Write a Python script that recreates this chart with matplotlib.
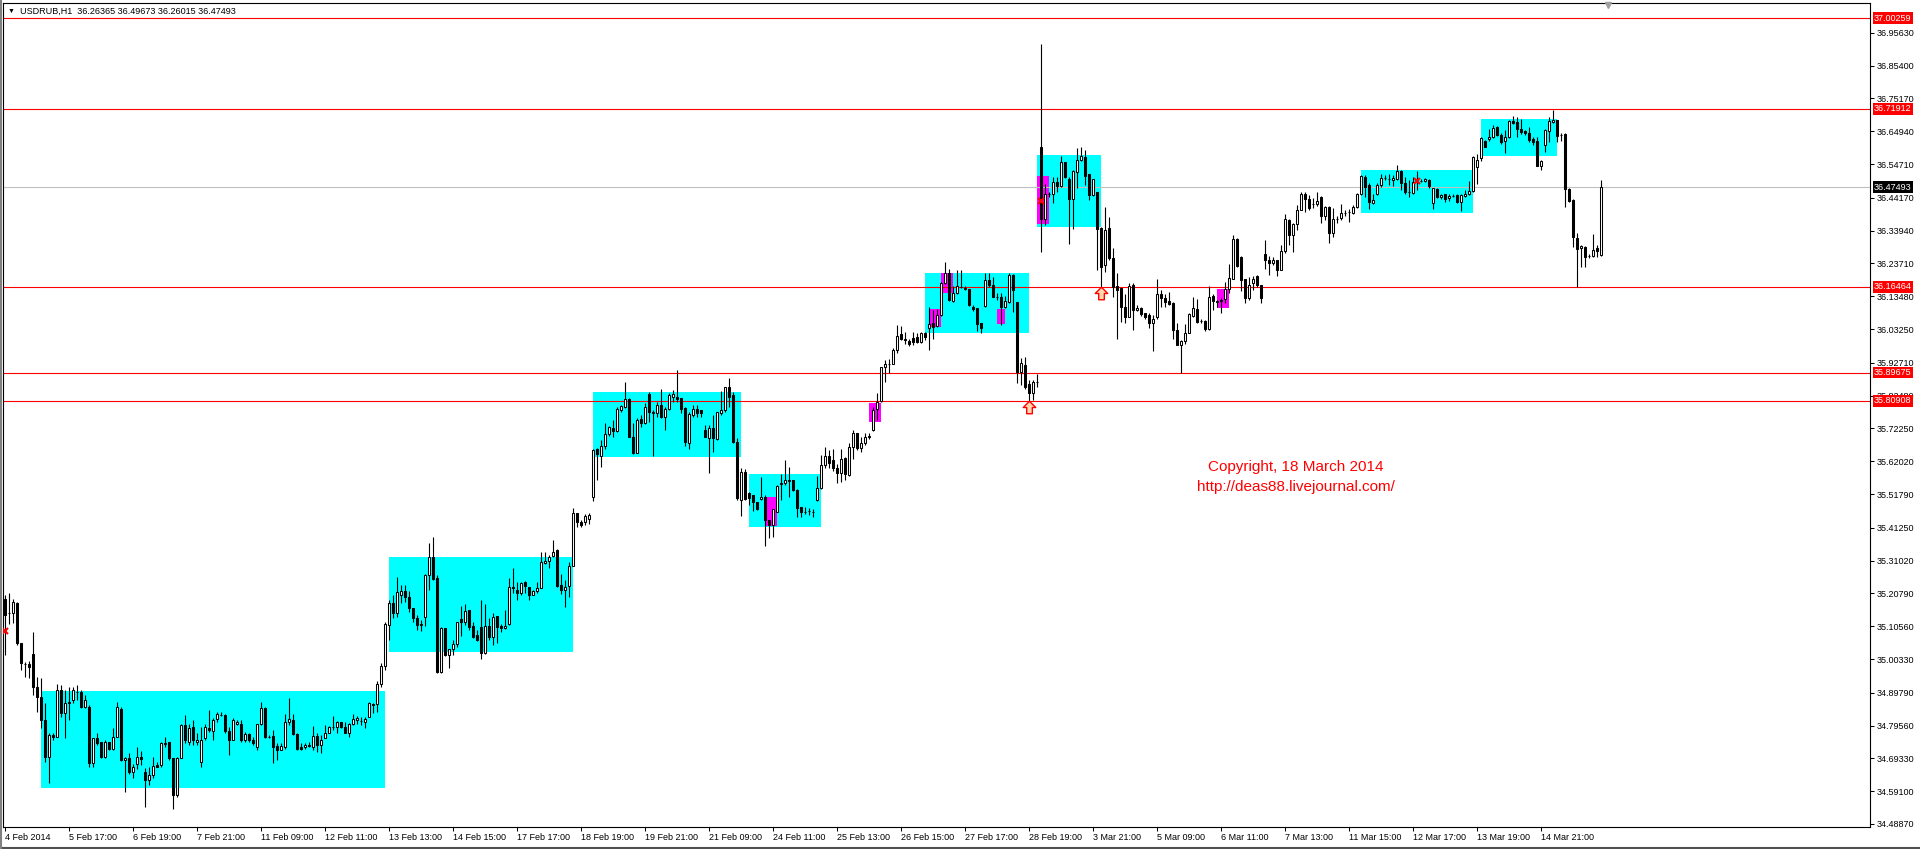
import matplotlib.pyplot as plt
import matplotlib.transforms as mtransforms
from matplotlib.path import Path
from matplotlib.lines import Line2D
import numpy as np

plt.rcParams['font.family'] = ['Liberation Sans', 'DejaVu Sans']

# USDRUB H1 candles
opens = [
    35.192, 35.146, 35.146, 35.179, 35.052, 34.988, 34.988, 35.018, 34.917, 34.886,
    34.813, 34.698, 34.766, 34.761, 34.908, 34.834, 34.867, 34.875, 34.901, 34.901,
    34.854, 34.854, 34.678, 34.756, 34.745, 34.698, 34.745, 34.724, 34.761, 34.847,
    34.688, 34.695, 34.650, 34.676, 34.698, 34.651, 34.626, 34.641, 34.672, 34.672,
    34.737, 34.745, 34.693, 34.579, 34.693, 34.797, 34.745, 34.790, 34.745, 34.683,
    34.756, 34.787, 34.780, 34.815, 34.830, 34.830, 34.780, 34.752, 34.800, 34.802,
    34.750, 34.769, 34.752, 34.730, 34.800, 34.852, 34.761, 34.763, 34.732, 34.721,
    34.730, 34.808, 34.813, 34.769, 34.730, 34.728, 34.732, 34.730, 34.763, 34.735,
    34.756, 34.773, 34.790, 34.790, 34.806, 34.792, 34.771, 34.800, 34.813, 34.811,
    34.808, 34.823, 34.863, 34.863, 34.924, 34.981, 35.109, 35.177, 35.146, 35.203,
    35.215, 35.196, 35.161, 35.130, 35.109, 35.135, 35.265, 35.322, 35.255, 34.964,
    35.099, 35.016, 35.033, 35.050, 35.127, 35.120, 35.156, 35.106, 35.078, 35.104,
    35.021, 35.107, 35.073, 35.137, 35.106, 35.099, 35.111, 35.229, 35.220, 35.208,
    35.242, 35.229, 35.203, 35.215, 35.226, 35.302, 35.308, 35.324, 35.343, 35.234,
    35.218, 35.231, 35.294, 35.458, 35.430, 35.432, 35.439, 35.510, 35.657, 35.638,
    35.668, 35.705, 35.723, 35.716, 35.780, 35.790, 35.813, 35.695, 35.647, 35.751,
    35.738, 35.830, 35.772, 35.772, 35.796, 35.757, 35.782, 35.820, 35.820, 35.816,
    35.787, 35.676, 35.764, 35.782, 35.780, 35.718, 35.692, 35.725, 35.688, 35.770,
    35.780, 35.851, 35.827, 35.681, 35.499, 35.586, 35.520, 35.515, 35.492, 35.501,
    35.508, 35.437, 35.421, 35.463, 35.548, 35.551, 35.559, 35.561, 35.530, 35.476,
    35.463, 35.466, 35.463, 35.499, 35.538, 35.610, 35.637, 35.624, 35.598, 35.582,
    35.629, 35.577, 35.665, 35.707, 35.663, 35.678, 35.695, 35.717, 35.782, 35.809,
    35.913, 35.925, 35.925, 35.967, 36.017, 36.003, 35.996, 36.005, 36.007, 35.993,
    36.021, 36.035, 36.052, 36.042, 36.076, 36.175, 36.206, 36.121, 36.144, 36.165,
    36.159, 36.156, 36.100, 36.097, 36.050, 36.104, 36.185, 36.170, 36.133, 36.133,
    36.100, 36.118, 36.201, 36.118, 35.899, 35.920, 35.860, 35.834, 35.868, 36.601,
    36.377, 36.453, 36.453, 36.492, 36.479, 36.552, 36.502, 36.437, 36.521, 36.559,
    36.570, 36.516, 36.450, 36.459, 36.349, 36.232, 36.349, 36.255, 36.166, 36.159,
    36.102, 36.071, 36.169, 36.091, 36.097, 36.081, 36.076, 36.050, 36.069, 36.141,
    36.130, 36.121, 36.115, 36.031, 35.984, 35.996, 36.021, 36.073, 36.094, 36.057,
    36.058, 36.032, 36.135, 36.119, 36.123, 36.125, 36.156, 36.190, 36.312, 36.258,
    36.188, 36.130, 36.175, 36.198, 36.171, 36.268, 36.249, 36.239, 36.247, 36.218,
    36.277, 36.374, 36.327, 36.359, 36.405, 36.453, 36.437, 36.424, 36.424, 36.445,
    36.385, 36.414, 36.333, 36.377, 36.380, 36.396, 36.398, 36.396, 36.412, 36.453,
    36.507, 36.481, 36.426, 36.455, 36.483, 36.504, 36.500, 36.497, 36.502, 36.526,
    36.489, 36.461, 36.457, 36.495, 36.495, 36.494, 36.497, 36.427, 36.468, 36.443,
    36.453, 36.440, 36.448, 36.450, 36.429, 36.448, 36.455, 36.464, 36.539, 36.565,
    36.619, 36.624, 36.630, 36.663, 36.639, 36.620, 36.630, 36.681, 36.679, 36.658,
    36.650, 36.645, 36.625, 36.619, 36.542, 36.608, 36.651, 36.679, 36.684, 36.639,
    36.641, 36.469, 36.435, 36.315, 36.284, 36.289, 36.260, 36.260, 36.284, 36.26365,
]
highs = [
    35.203, 35.208, 35.189, 35.182, 35.052, 34.995, 34.998, 35.088, 34.948, 34.943,
    34.865, 34.773, 34.773, 34.925, 34.922, 34.906, 34.917, 34.917, 34.922, 34.906,
    34.891, 34.860, 34.756, 34.771, 34.745, 34.750, 34.745, 34.787, 34.870, 34.854,
    34.698, 34.711, 34.676, 34.728, 34.717, 34.662, 34.667, 34.698, 34.683, 34.745,
    34.761, 34.745, 34.693, 34.698, 34.802, 34.828, 34.802, 34.813, 34.771, 34.792,
    34.802, 34.844, 34.818, 34.839, 34.839, 34.832, 34.792, 34.818, 34.813, 34.813,
    34.776, 34.773, 34.761, 34.802, 34.870, 34.854, 34.766, 34.782, 34.740, 34.740,
    34.832, 34.882, 34.832, 34.771, 34.742, 34.740, 34.745, 34.794, 34.771, 34.766,
    34.797, 34.794, 34.825, 34.811, 34.808, 34.808, 34.804, 34.832, 34.825, 34.823,
    34.823, 34.870, 34.865, 34.936, 34.990, 35.120, 35.187, 35.203, 35.260, 35.234,
    35.234, 35.215, 35.161, 35.140, 35.125, 35.270, 35.364, 35.385, 35.265, 35.104,
    35.099, 35.033, 35.064, 35.120, 35.168, 35.174, 35.156, 35.120, 35.094, 35.187,
    35.174, 35.130, 35.146, 35.137, 35.114, 35.156, 35.255, 35.286, 35.244, 35.244,
    35.247, 35.229, 35.220, 35.244, 35.338, 35.338, 35.328, 35.374, 35.345, 35.270,
    35.250, 35.307, 35.473, 35.460, 35.437, 35.456, 35.458, 35.657, 35.660, 35.686,
    35.738, 35.730, 35.749, 35.790, 35.796, 35.866, 35.816, 35.738, 35.754, 35.764,
    35.801, 35.837, 35.780, 35.806, 35.844, 35.790, 35.832, 35.842, 35.905, 35.816,
    35.790, 35.775, 35.796, 35.796, 35.780, 35.733, 35.733, 35.764, 35.775, 35.840,
    35.853, 35.879, 35.837, 35.692, 35.598, 35.596, 35.525, 35.515, 35.492, 35.572,
    35.515, 35.437, 35.470, 35.546, 35.580, 35.624, 35.603, 35.563, 35.535, 35.478,
    35.476, 35.473, 35.470, 35.574, 35.639, 35.665, 35.655, 35.657, 35.613, 35.657,
    35.634, 35.676, 35.719, 35.709, 35.697, 35.707, 35.709, 35.790, 35.832, 35.915,
    35.936, 35.939, 35.972, 36.045, 36.042, 36.024, 36.003, 36.024, 36.019, 36.024,
    36.024, 36.102, 36.092, 36.095, 36.180, 36.243, 36.219, 36.167, 36.217, 36.217,
    36.167, 36.157, 36.107, 36.097, 36.050, 36.208, 36.206, 36.196, 36.144, 36.144,
    36.135, 36.208, 36.204, 36.118, 35.941, 35.946, 35.873, 35.873, 35.892, 36.923,
    36.485, 36.461, 36.507, 36.507, 36.572, 36.554, 36.507, 36.528, 36.596, 36.599,
    36.591, 36.516, 36.502, 36.459, 36.351, 36.412, 36.383, 36.284, 36.206, 36.162,
    36.143, 36.175, 36.175, 36.107, 36.100, 36.083, 36.083, 36.076, 36.190, 36.154,
    36.143, 36.149, 36.117, 36.050, 35.998, 36.048, 36.081, 36.133, 36.125, 36.065,
    36.062, 36.166, 36.141, 36.123, 36.128, 36.180, 36.235, 36.325, 36.315, 36.260,
    36.188, 36.195, 36.198, 36.201, 36.171, 36.310, 36.260, 36.258, 36.249, 36.294,
    36.391, 36.377, 36.362, 36.419, 36.461, 36.461, 36.450, 36.440, 36.461, 36.447,
    36.416, 36.416, 36.409, 36.385, 36.424, 36.405, 36.406, 36.419, 36.457, 36.513,
    36.513, 36.487, 36.455, 36.487, 36.516, 36.513, 36.515, 36.513, 36.544, 36.530,
    36.507, 36.497, 36.507, 36.526, 36.499, 36.505, 36.499, 36.474, 36.474, 36.455,
    36.455, 36.455, 36.455, 36.455, 36.455, 36.466, 36.495, 36.572, 36.578, 36.632,
    36.622, 36.655, 36.669, 36.665, 36.643, 36.653, 36.684, 36.697, 36.693, 36.689,
    36.653, 36.663, 36.630, 36.632, 36.559, 36.655, 36.695, 36.715, 36.686, 36.643,
    36.643, 36.474, 36.437, 36.331, 36.294, 36.291, 36.268, 36.329, 36.294, 36.49673,
]
lows = [
    35.016, 35.114, 35.116, 35.047, 34.969, 34.948, 34.943, 34.891, 34.839, 34.787,
    34.683, 34.615, 34.750, 34.759, 34.823, 34.756, 34.813, 34.865, 34.875, 34.849,
    34.849, 34.667, 34.667, 34.735, 34.696, 34.693, 34.721, 34.719, 34.761, 34.686,
    34.589, 34.646, 34.631, 34.659, 34.672, 34.542, 34.610, 34.631, 34.665, 34.667,
    34.730, 34.688, 34.537, 34.574, 34.693, 34.740, 34.735, 34.735, 34.735, 34.667,
    34.750, 34.776, 34.750, 34.808, 34.825, 34.771, 34.704, 34.750, 34.797, 34.745,
    34.745, 34.745, 34.735, 34.719, 34.797, 34.756, 34.756, 34.678, 34.688, 34.719,
    34.724, 34.797, 34.766, 34.721, 34.719, 34.724, 34.730, 34.719, 34.714, 34.711,
    34.756, 34.771, 34.782, 34.773, 34.787, 34.771, 34.761, 34.797, 34.802, 34.797,
    34.787, 34.823, 34.834, 34.839, 34.917, 34.969, 35.062, 35.130, 35.135, 35.179,
    35.180, 35.151, 35.120, 35.094, 35.092, 35.107, 35.218, 35.250, 34.961, 34.961,
    35.012, 34.974, 35.016, 35.042, 35.075, 35.109, 35.094, 35.068, 35.060, 35.002,
    35.018, 35.062, 35.047, 35.052, 35.086, 35.096, 35.109, 35.208, 35.187, 35.203,
    35.208, 35.187, 35.203, 35.208, 35.224, 35.300, 35.286, 35.322, 35.229, 35.206,
    35.166, 35.196, 35.293, 35.416, 35.416, 35.421, 35.424, 35.497, 35.562, 35.601,
    35.657, 35.699, 35.697, 35.712, 35.775, 35.785, 35.695, 35.643, 35.645, 35.728,
    35.736, 35.744, 35.636, 35.759, 35.754, 35.718, 35.780, 35.806, 35.806, 35.770,
    35.668, 35.657, 35.757, 35.759, 35.757, 35.695, 35.584, 35.650, 35.686, 35.764,
    35.775, 35.790, 35.676, 35.499, 35.449, 35.499, 35.484, 35.465, 35.468, 35.499,
    35.356, 35.380, 35.385, 35.463, 35.499, 35.546, 35.509, 35.528, 35.447, 35.447,
    35.455, 35.452, 35.447, 35.497, 35.535, 35.598, 35.598, 35.591, 35.551, 35.556,
    35.561, 35.575, 35.626, 35.655, 35.650, 35.671, 35.691, 35.715, 35.749, 35.806,
    35.868, 35.896, 35.923, 35.957, 35.998, 35.986, 35.979, 35.983, 35.988, 35.990,
    35.998, 35.967, 36.003, 36.038, 36.074, 36.173, 36.121, 36.118, 36.142, 36.159,
    36.154, 36.104, 36.090, 36.026, 36.021, 36.102, 36.165, 36.131, 36.123, 36.045,
    36.097, 36.113, 36.087, 35.863, 35.858, 35.847, 35.806, 35.811, 35.853, 36.273,
    36.357, 36.445, 36.426, 36.461, 36.476, 36.505, 36.299, 36.346, 36.471, 36.557,
    36.481, 36.435, 36.448, 36.218, 36.159, 36.211, 36.247, 36.133, 36.003, 36.055,
    36.050, 36.069, 36.029, 36.089, 36.073, 36.065, 36.037, 35.965, 36.065, 36.102,
    36.102, 36.107, 36.000, 35.982, 35.896, 35.985, 36.019, 36.071, 36.050, 36.050,
    36.026, 36.029, 36.091, 36.102, 36.081, 36.114, 36.145, 36.188, 36.227, 36.151,
    36.114, 36.123, 36.154, 36.164, 36.114, 36.221, 36.201, 36.232, 36.198, 36.216,
    36.270, 36.294, 36.273, 36.341, 36.403, 36.398, 36.403, 36.409, 36.416, 36.362,
    36.372, 36.302, 36.320, 36.362, 36.374, 36.385, 36.367, 36.391, 36.409, 36.450,
    36.445, 36.407, 36.424, 36.450, 36.476, 36.497, 36.481, 36.478, 36.497, 36.466,
    36.455, 36.443, 36.455, 36.466, 36.492, 36.492, 36.474, 36.407, 36.440, 36.437,
    36.429, 36.433, 36.443, 36.426, 36.401, 36.443, 36.450, 36.461, 36.485, 36.557,
    36.599, 36.620, 36.627, 36.634, 36.611, 36.582, 36.627, 36.672, 36.630, 36.641,
    36.637, 36.617, 36.606, 36.541, 36.528, 36.585, 36.617, 36.674, 36.617, 36.619,
    36.414, 36.430, 36.289, 36.164, 36.227, 36.227, 36.253, 36.256, 36.256, 36.26015,
]
closes = [
    35.140, 35.146, 35.182, 35.054, 34.990, 34.988, 34.977, 34.917, 34.886, 34.813,
    34.698, 34.766, 34.759, 34.906, 34.834, 34.865, 34.870, 34.906, 34.901, 34.854,
    34.875, 34.678, 34.756, 34.740, 34.698, 34.745, 34.724, 34.761, 34.854, 34.688,
    34.695, 34.650, 34.667, 34.698, 34.691, 34.626, 34.641, 34.669, 34.667, 34.740,
    34.742, 34.693, 34.579, 34.693, 34.797, 34.750, 34.787, 34.750, 34.752, 34.750,
    34.790, 34.782, 34.813, 34.832, 34.830, 34.780, 34.752, 34.813, 34.808, 34.750,
    34.769, 34.750, 34.742, 34.800, 34.849, 34.761, 34.759, 34.730, 34.721, 34.732,
    34.808, 34.815, 34.769, 34.724, 34.724, 34.735, 34.735, 34.763, 34.735, 34.752,
    34.771, 34.792, 34.790, 34.806, 34.790, 34.771, 34.802, 34.815, 34.818, 34.811,
    34.815, 34.865, 34.860, 34.924, 34.981, 35.114, 35.177, 35.146, 35.213, 35.215,
    35.198, 35.161, 35.130, 35.109, 35.114, 35.265, 35.322, 35.253, 34.964, 35.099,
    35.016, 35.033, 35.050, 35.118, 35.120, 35.154, 35.104, 35.073, 35.064, 35.021,
    35.107, 35.071, 35.133, 35.104, 35.099, 35.107, 35.229, 35.224, 35.208, 35.239,
    35.231, 35.203, 35.215, 35.226, 35.305, 35.308, 35.322, 35.338, 35.231, 35.218,
    35.229, 35.294, 35.458, 35.430, 35.421, 35.450, 35.452, 35.655, 35.642, 35.668,
    35.705, 35.726, 35.716, 35.782, 35.792, 35.813, 35.697, 35.647, 35.749, 35.738,
    35.790, 35.775, 35.773, 35.796, 35.757, 35.782, 35.827, 35.829, 35.813, 35.782,
    35.681, 35.766, 35.782, 35.772, 35.772, 35.697, 35.725, 35.692, 35.773, 35.780,
    35.851, 35.822, 35.681, 35.504, 35.588, 35.502, 35.504, 35.492, 35.471, 35.508,
    35.437, 35.421, 35.470, 35.544, 35.551, 35.561, 35.563, 35.530, 35.473, 35.463,
    35.463, 35.466, 35.463, 35.538, 35.610, 35.637, 35.616, 35.598, 35.582, 35.626,
    35.580, 35.665, 35.707, 35.663, 35.678, 35.697, 35.699, 35.780, 35.806, 35.913,
    35.925, 35.925, 35.967, 36.012, 36.003, 35.998, 35.985, 35.993, 35.993, 36.021,
    36.009, 36.048, 36.040, 36.076, 36.175, 36.208, 36.123, 36.144, 36.167, 36.165,
    36.157, 36.107, 36.094, 36.048, 36.035, 36.187, 36.170, 36.133, 36.133, 36.100,
    36.120, 36.201, 36.154, 35.899, 35.927, 35.853, 35.834, 35.868, 35.868, 36.377,
    36.455, 36.453, 36.492, 36.479, 36.552, 36.507, 36.437, 36.525, 36.559, 36.572,
    36.510, 36.450, 36.500, 36.344, 36.227, 36.343, 36.255, 36.164, 36.154, 36.102,
    36.071, 36.166, 36.093, 36.099, 36.079, 36.071, 36.050, 36.065, 36.141, 36.130,
    36.117, 36.112, 36.031, 35.984, 35.996, 36.021, 36.078, 36.097, 36.053, 36.057,
    36.032, 36.133, 36.121, 36.117, 36.119, 36.156, 36.193, 36.312, 36.229, 36.185,
    36.130, 36.169, 36.190, 36.169, 36.130, 36.247, 36.237, 36.247, 36.218, 36.275,
    36.377, 36.327, 36.359, 36.405, 36.455, 36.437, 36.409, 36.424, 36.432, 36.386,
    36.412, 36.333, 36.377, 36.377, 36.396, 36.396, 36.398, 36.412, 36.455, 36.509,
    36.476, 36.429, 36.435, 36.483, 36.505, 36.504, 36.500, 36.504, 36.525, 36.489,
    36.461, 36.461, 36.492, 36.495, 36.495, 36.499, 36.480, 36.471, 36.443, 36.452,
    36.438, 36.448, 36.448, 36.429, 36.450, 36.455, 36.464, 36.568, 36.561, 36.627,
    36.601, 36.630, 36.661, 36.637, 36.617, 36.630, 36.681, 36.676, 36.657, 36.646,
    36.643, 36.622, 36.617, 36.542, 36.556, 36.653, 36.681, 36.684, 36.635, 36.639,
    36.468, 36.433, 36.320, 36.281, 36.291, 36.256, 36.260, 36.279, 36.277, 36.47493,
]

# horizontal levels
levels = [37.00259, 36.71912, 36.16464, 35.89675, 35.80908]
bid = 36.47493

# cyan range boxes (bar from, bar to, price low, price high)
zone_from = [9, 96, 147, 186, 230, 258, 339, 369]
zone_to = [95, 142, 184, 204, 256, 274, 367, 388]
zone_low = [34.601, 35.025, 35.633, 35.415, 36.020, 36.351, 36.394, 36.572]
zone_high = [34.904, 35.322, 35.836, 35.580, 36.207, 36.575, 36.529, 36.688]

# magenta boxes
mag_from = [190, 216, 231, 234, 248, 258, 303]
mag_to = [193, 219, 234, 237, 250, 261, 306]
mag_low = [35.418, 35.743, 36.038, 36.146, 36.049, 36.360, 36.099]
mag_high = [35.509, 35.802, 36.094, 36.207, 36.095, 36.510, 36.156]

# red x marks and up arrows
xmark_bar = [0, 259, 353]
xmark_price = [35.091, 36.433, 36.495]
arrow_bar = [256, 274]
arrow_price = [35.809, 36.165]

price_ticks = [36.95630, 36.85400, 36.75170, 36.64940, 36.54710, 36.44170,
               36.33940, 36.23710, 36.13480, 36.03250, 35.92710, 35.82480,
               35.72250, 35.62020, 35.51790, 35.41250, 35.31020, 35.20790,
               35.10560, 35.00330, 34.89790, 34.79560, 34.69330, 34.59100,
               34.48870]
time_labels = ["4 Feb 2014", "5 Feb 17:00", "6 Feb 19:00", "7 Feb 21:00",
               "11 Feb 09:00", "12 Feb 11:00", "13 Feb 13:00", "14 Feb 15:00",
               "17 Feb 17:00", "18 Feb 19:00", "19 Feb 21:00", "21 Feb 09:00",
               "24 Feb 11:00", "25 Feb 13:00", "26 Feb 15:00", "27 Feb 17:00",
               "28 Feb 19:00", "3 Mar 21:00", "5 Mar 09:00", "6 Mar 11:00",
               "7 Mar 13:00", "11 Mar 15:00", "12 Mar 17:00", "13 Mar 19:00",
               "14 Mar 21:00"]
bars_per_label = 16

fig = plt.figure(figsize=(19.2, 8.49), dpi=100)
ax = fig.add_axes([3 / 1920, 22 / 849, 1867 / 1920, 824 / 849])

n = min(len(opens), len(highs), len(lows), len(closes))
o = np.array(opens[:n])
h = np.array(highs[:n])
l = np.array(lows[:n])
c = np.array(closes[:n])
x = np.arange(n)
up = c >= o

for x0, x1, lo, hi in zip(zone_from, zone_to, zone_low, zone_high):
    ax.add_patch(plt.Rectangle((x0, lo), x1 - x0, hi - lo, color="#00FFFF", lw=0, zorder=1))
for x0, x1, lo, hi in zip(mag_from, mag_to, mag_low, mag_high):
    ax.add_patch(plt.Rectangle((x0, lo), x1 - x0, hi - lo, color="#FF00FF", lw=0, zorder=1.5))

for lv in levels:
    ax.axhline(lv, color="red", lw=0.8, zorder=2)
ax.axhline(bid, color="#C0C0C0", lw=0.8, zorder=2)

ax.vlines(x, l, h, color="black", lw=0.8, zorder=3)
ax.bar(x[up], c[up] - o[up], bottom=o[up], width=0.5, color="white",
       edgecolor="black", lw=0.75, zorder=4)
ax.bar(x[~up], c[~up] - o[~up], bottom=o[~up], width=0.5, color="black",
       edgecolor="black", lw=0.75, zorder=4)

ax.plot(xmark_bar, xmark_price, "x", color="red", ms=5, mew=1.5, zorder=6)

arrow = Path([(0, 1), (1, 0), (0.45, 0), (0.45, -1), (-0.45, -1),
              (-0.45, 0), (-1, 0), (0, 1)], closed=True)
arr_tr = mtransforms.offset_copy(ax.transData, fig=fig, y=-6, units="dots")
ax.plot(arrow_bar, arrow_price, ls="none", marker=arrow, ms=9, mfc="#FFD8B0",
        mec="red", mew=1, transform=arr_tr, zorder=6)

ax.text(0.6926, 0.4369, "Copyright, 18 March 2014", transform=ax.transAxes,
        ha="center", va="center", color="red", fontsize=11)
ax.text(0.6926, 0.4126, "http://deas88.livejournal.com/", transform=ax.transAxes,
        ha="center", va="center", color="red", fontsize=11)

ax.set_xlim(-0.5, 466.25)
ax.set_ylim(34.4793, 37.0495)

ax.yaxis.tick_right()
ax.set_yticks(price_ticks)
ax.set_yticklabels([f"{v:.5f}" for v in price_ticks])
ax.set_xticks(np.arange(len(time_labels)) * bars_per_label)
ax.set_xticklabels(time_labels)
for lbl in ax.get_xticklabels():
    lbl.set_horizontalalignment("left")
ax.tick_params(axis="y", direction="out", length=3, width=0.75, pad=1.5, labelsize=6.5)
ax.tick_params(axis="x", direction="out", length=3, width=0.75, pad=1.2, labelsize=6.5)
for sp in ax.spines.values():
    sp.set_linewidth(0.8)
    sp.set_color("black")

for lv in levels:
    ax.annotate(f"{lv:.5f}", xy=(1, lv), xycoords=("axes fraction", "data"),
                xytext=(4, 0), textcoords="offset pixels", ha="left", va="center",
                color="white", fontsize=6.5, zorder=7, annotation_clip=False,
                bbox=dict(boxstyle="square,pad=0.15", fc="red", ec="none"))
ax.annotate(f"{bid:.5f}", xy=(1, bid), xycoords=("axes fraction", "data"),
            xytext=(4, 0), textcoords="offset pixels", ha="left", va="center",
            color="white", fontsize=6.5, zorder=7, annotation_clip=False,
            bbox=dict(boxstyle="square,pad=0.15", fc="black", ec="none"))

# chart shift marker
ax.plot([0.8597], [0.997], marker="v", color="#A0A0A0", ms=5, transform=ax.transAxes,
        clip_on=False, zorder=7)

fig.text(8 / 1920, 1 - 11.5 / 849, "\u25bc", fontsize=5, va="center")
fig.text(20 / 1920, 1 - 11.5 / 849,
         f"USDRUB,H1  {o[-1]:.5f} {h[-1]:.5f} {l[-1]:.5f} {c[-1]:.5f}",
         fontsize=6.5, va="center")

fig.add_artist(Line2D([0, 1], [1.5 / 849, 1.5 / 849], color="#505050", lw=1.5))
fig.add_artist(Line2D([0.5 / 1920, 0.5 / 1920], [0, 1], color="#808080", lw=1.5))

fig.savefig("out.png", dpi=100, facecolor="white")
